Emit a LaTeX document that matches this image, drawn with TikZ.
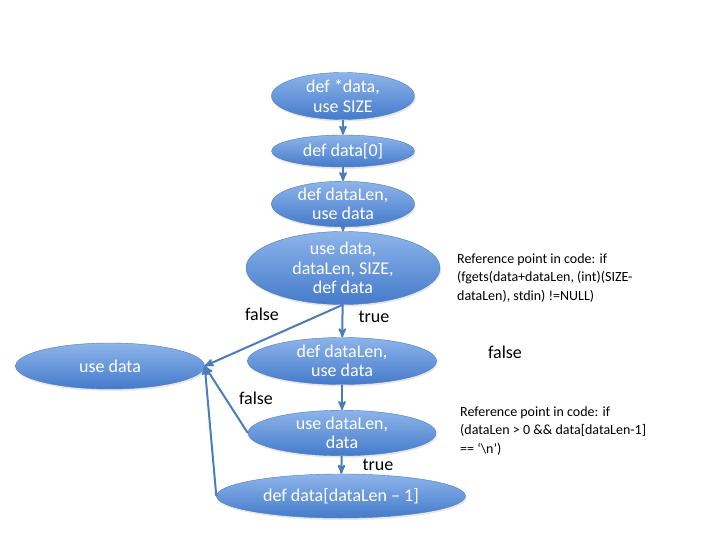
\documentclass[tikz,border=0pt]{standalone}
\usepackage{fontspec}
\setmainfont{Carlito}
\usepackage{tikz}
\usetikzlibrary{arrows, shapes.geometric, shadows}

\definecolor{ovtop}{HTML}{8DB4EA}
\definecolor{ovbot}{HTML}{457BCB}
\definecolor{ovline}{HTML}{4A7EBB}

\begin{document}
\begin{tikzpicture}[x=1pt, y=-1pt]
      \tikzset{ov/.style={ellipse, draw=ovline, thin, top color=ovtop, bottom color=ovbot, inner sep=0pt, align=center, text=white, font=\fontsize{18}{19.5}\selectfont, drop shadow={opacity=0.2, shadow xshift=1pt, shadow yshift=-2pt}}, lbl/.style={font=\fontsize{18}{21.5}\selectfont}, note/.style={align=left, anchor=west, inner sep=0pt, font=\fontsize{14}{18.5}\selectfont}, every edge/.style={draw=ovline, ->, >=stealth', line width=2pt}}
      \useasboundingbox (0,0) rectangle (720,540);
      \node[ov, minimum width=143, minimum height=47] (n0) at (343,96) {def *data,\\use SIZE};
      \node[ov, minimum width=143, minimum height=32] (n1) at (343,151) {def data[0]};
      \node[ov, minimum width=143, minimum height=42] (n2) at (343,204) {def dataLen,\\use data};
      \node[ov, minimum width=194, minimum height=62] (n3) at (343,268) {use data,\\dataLen, SIZE,\\def data};
      \node[ov, minimum width=189, minimum height=46] (n4) at (110,366) {use data};
      \node[ov, minimum width=189, minimum height=47] (n5) at (342,361) {def dataLen,\\use data};
      \node[ov, minimum width=188, minimum height=44] (n6) at (342,433) {use dataLen,\\data};
      \node[ov, minimum width=249, minimum height=44] (n7) at (341,496) {def data[dataLen -- 1]};
      \draw (n0) edge (n1) (n1) edge (n2) (n2) edge (n3);
      \draw (n3) edge (n5) (n3.south) edge (n4.east);
      \draw (n5) edge (n6) (n6) edge (n7);
      \draw (n6.west) edge (n4.east) (n7.west) edge (n4.east);
      \node[lbl] (f0) at (262,314) {false};
      \node[lbl] (t0) at (374,317) {true};
      \node[lbl] (f1) at (256,398) {false};
      \node[lbl] (t1) at (378,465) {true};
      \node[lbl] (f2) at (505,352) {false};
      \node[note] (r0) at (457,278) {Reference point in code: if\\(fgets(data+dataLen, (int)(SIZE-\\dataLen), stdin) !=NULL)};
      \node[note] (r1) at (460,431) {Reference point in code: if\\(dataLen > 0 \&\& data[dataLen-1]\\== ‘\textbackslash n’)};
    \end{tikzpicture}
\end{document}
